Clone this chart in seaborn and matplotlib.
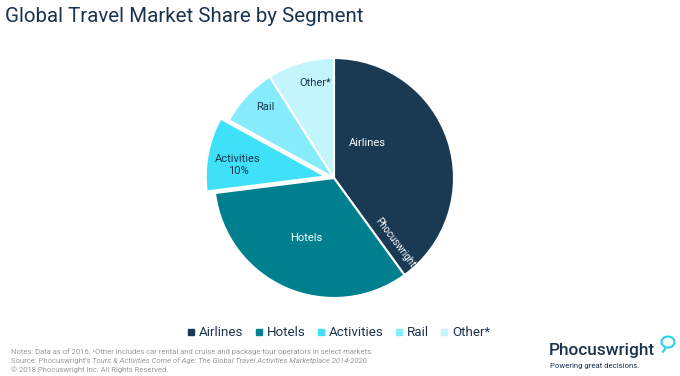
import matplotlib
matplotlib.use("Agg")
import matplotlib.pyplot as plt
import seaborn as sns
from matplotlib.patches import Arc
from matplotlib.lines import Line2D

# Market share by segment (2016)
segments = ["Airlines", "Hotels", "Activities", "Rail", "Other*"]
shares = [40, 33, 10, 8, 9]
colors = ["#1a3a54", "#00808f", "#3fe1f8", "#86ecfb", "#c3f5fc"]
slice_labels = ["Airlines", "Hotels", "Activities\n10%", "Rail", "Other*"]
label_colors = ["white", "white", "#1a3350", "#1a3350", "#1a3350"]
# label positions inside the pie (radius units)
label_pos = [(0.275, 0.29), (-0.23, -0.5), (-0.80, 0.11), (-0.575, 0.59), (-0.16, 0.79)]

sns.set_style("white")
plt.rcParams['font.family'] = ['Roboto', 'DejaVu Sans']
navy = "#1a3350"

fig = plt.figure(figsize=(6.8, 3.76), dpi=100)

# Title
fig.text(5 / 680, 1 - 16 / 376, "Global Travel Market Share by Segment",
         fontsize=14.8, color=navy, va="center", ha="left")

# Pie axes: centre at (334, 178) px, 300 px square
ax = fig.add_axes([(334 - 150) / 680, (376 - 178 - 150) / 376, 300 / 680, 300 / 376])
wedges, _ = ax.pie(shares, colors=colors, startangle=90, counterclock=False,
                   explode=[0, 0, 0.07, 0, 0],
                   wedgeprops=dict(edgecolor="white", linewidth=1.5))
ax.axis("off")

for txt, (x, y), c in zip(slice_labels, label_pos, label_colors):
    ax.text(x, y, txt, ha="center", va="center", fontsize=8, color=c, linespacing=1.3)

# Watermark on the Airlines wedge
ax.text(0.51, -0.54, "Phocuswright", rotation=-53, fontsize=7, color="white",
        ha="center", va="center")

# Legend with small square markers
handles = [Line2D([], [], marker="s", linestyle="none", markersize=5,
                  markerfacecolor=c, markeredgecolor=c) for c in colors]
fig.legend(handles, segments, loc="center", bbox_to_anchor=(0.498, 1 - 333 / 376),
           ncol=5, frameon=False, fontsize=9.6, handlelength=0.6,
           handletextpad=0.3, columnspacing=0.85, labelcolor=navy)

# Notes
grey = "#9a9a9a"
fs = 5.5
fig.text(11 / 680, 1 - 352 / 376,
         "Notes: Data as of 2016. \u2022Other includes car rental and cruise and package tour operators in select markets.",
         fontsize=fs, color=grey, va="center")
src = fig.text(11 / 680, 1 - 361 / 376, "Source: Phocuswright's ",
               fontsize=fs, color=grey, va="center")
plt.annotate("Tours & Activities Come of Age: The Global Travel Activities Marketplace 2014-2020",
             xy=(1, 0.5), xycoords=src, va="center", ha="left",
             fontsize=fs, color=grey, style="italic", annotation_clip=False)
fig.text(11 / 680, 1 - 370 / 376, "\u00a9 2018 Phocuswright Inc. All Rights Reserved.",
         fontsize=fs, color=grey, va="center")

# Logo
fig.text(549 / 680, 1 - 350 / 376, "Phocuswright", fontsize=12.4, color=navy,
         va="center", ha="left", fontweight="medium")
fig.text(550 / 680, 1 - 366 / 376, "Powering great decisions.", fontsize=5.6,
         color=navy, va="center", ha="left")
lax = fig.add_axes([655 / 680, 1 - 356 / 376, 24 / 680, 22 / 376])
lax.set_xlim(0, 24)
lax.set_ylim(0, 22)
lax.axis("off")
lax.add_patch(Arc((13, 14), 13, 11, theta1=-100, theta2=250, color="#2ad0ee", lw=1.5))
lax.plot([11, 8], [8.6, 4], color="#2ad0ee", lw=1.5)

fig.savefig("out.png", dpi=100)
